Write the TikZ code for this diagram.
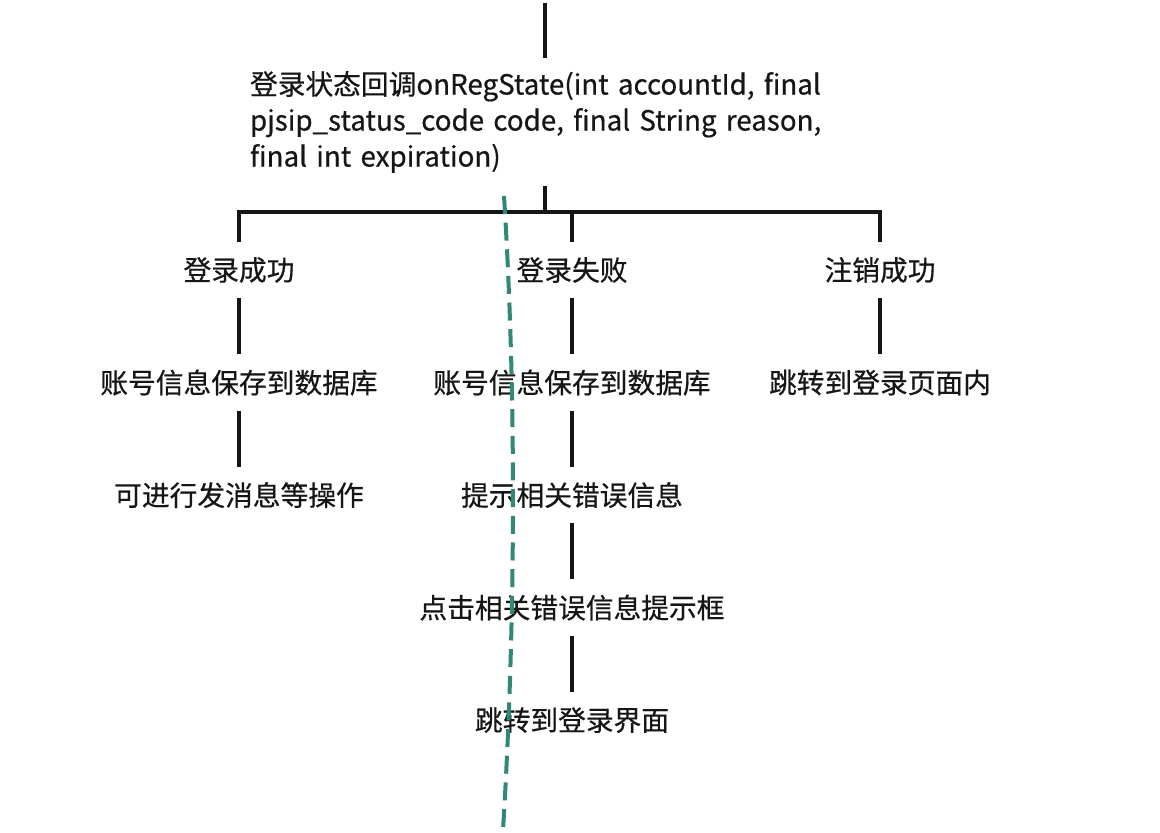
\documentclass[tikz,border=0pt]{standalone}
\usepackage{fontspec}
\setmainfont[FakeBold=0.5]{Noto Sans CJK SC}
\usetikzlibrary{positioning}
\definecolor{flowTeal}{RGB}{50,135,118}
\definecolor{flowInk}{RGB}{22,22,22}

\begin{document}
\begin{tikzpicture}[x=0.75pt, y=-0.75pt]
    \tikzstyle{lbl} = [rectangle, inner sep=0pt, minimum height=42pt, text centered, text=flowInk, font=\fontsize{20.8pt}{27pt}\selectfont]
    \tikzstyle{link} = [line width=3.2pt, draw=flowInk]

    \useasboundingbox[fill=white] (0,0) rectangle (1160,832);

    \coordinate (top) at (545,3);
    \coordinate (bar) at (545,212);

    \node[lbl, text width=442.5pt, minimum height=96pt, align=left] (main) at (545,122)
        {登录状态回调onRegState(int accountId, final\\pjsip\_status\_code code, final String reason,\\final int expiration)};

    \node[lbl] (ok) at (239,270) {登录成功};
    \node[lbl] (fail) at (572,270) {登录失败};
    \node[lbl] (out) at (880,270) {注销成功};

    \node[lbl, below=42pt of ok] (okSave) {账号信息保存到数据库};
    \node[lbl, below=42pt of okSave] (okSend) {可进行发消息等操作};

    \node[lbl, below=42pt of fail] (failSave) {账号信息保存到数据库};
    \node[lbl, below=42pt of failSave] (failTip) {提示相关错误信息};
    \node[lbl, below=42pt of failTip] (failClick) {点击相关错误信息提示框};
    \node[lbl, below=42pt of failClick] (failBack) {跳转到登录界面};

    \node[lbl, below=42pt of out] (outBack) {跳转到登录页面内};

    \draw[link] (top) -- (main.north);
    \draw[link] (main.south) -- (bar);
    \draw[link] (ok.north) |- (bar) -| (fail.north);
    \draw[link] (bar) -| (out.north);

    \draw[link] (ok) -- (okSave);
    \draw[link] (okSave) -- (okSend);
    \draw[link] (fail) -- (failSave);
    \draw[link] (failSave) -- (failTip);
    \draw[link] (failTip) -- (failClick);
    \draw[link] (failClick) -- (failBack);
    \draw[link] (out) -- (outBack);

    % dashed divider
    \draw[flowTeal, line width=3pt, dash pattern=on 13.5pt off 6.5pt]
        (504,196) .. controls (518,420) and (514,650) .. (503,830);
\end{tikzpicture}
\end{document}
